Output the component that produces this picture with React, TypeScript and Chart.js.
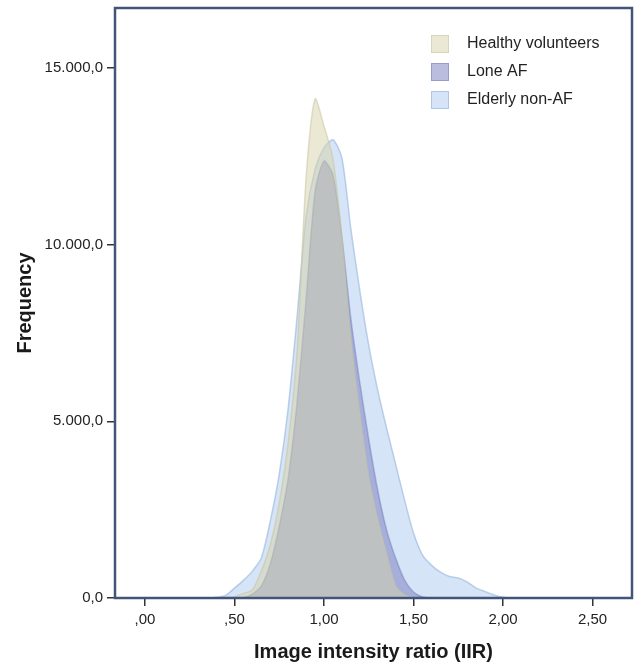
import React, { useEffect, useRef } from "react";
import { Chart, registerables } from "chart.js";

Chart.register(...registerables);

const xValues = [
  0.3, 0.35, 0.4, 0.45, 0.5, 0.55, 0.6, 0.65, 0.7, 0.75, 0.8, 0.85, 0.9, 0.95,
  1.0, 1.05, 1.1, 1.15, 1.2, 1.25, 1.3, 1.35, 1.4, 1.45, 1.5, 1.55, 1.6, 1.65,
  1.7, 1.75, 1.8, 1.85, 1.9, 1.95, 2.0, 2.05, 2.1,
];

const healthyVolunteers = [
  0, 0, 0, 20, 30, 130, 225, 760, 1500, 2680, 4400, 7000, 11880, 14125, 13360,
  12430, 10230, 7320, 5230, 3420, 2230, 1240, 340, 85, 20, 0, 0, 0, 0, 0, 0, 0,
  0, 0, 0, 0, 0,
];

const loneAF = [
  0, 0, 0, 0, 10, 15, 110, 340, 960, 2030, 3390, 5560, 8450, 11500, 12370,
  11980, 10200, 7910, 6100, 4490, 3050, 1920, 1130, 510, 170, 30, 0, 0, 0, 0, 0,
  0, 0, 0, 0, 0, 0,
];

const elderlyNonAF = [
  0, 0, 20, 70, 280, 500, 760, 1130, 2175, 3500, 5370, 7970, 10790, 12120,
  12740, 12970, 12460, 10450, 8700, 7150, 5880, 4800, 3790, 2770, 1840, 1215,
  930, 730, 610, 565, 450, 280, 180, 85, 20, 0, 0,
];

const seriesLabels = ["Healthy volunteers", "Lone AF", "Elderly non-AF"];
const xTickValues = [0, 0.5, 1.0, 1.5, 2.0, 2.5];
const yTickValues = [0, 5000, 10000, 15000];

const fillColors = [
  "rgba(216,212,170,0.5)",
  "rgba(118,124,190,0.5)",
  "rgba(172,202,238,0.5)",
];
const lineColors = [
  "rgba(200,196,160,0.55)",
  "rgba(110,116,180,0.45)",
  "rgba(150,180,222,0.6)",
];

function fmtX(v: number): string {
  const s = v.toFixed(2).replace(".", ",");
  return s.startsWith("0,") ? s.slice(1) : s;
}

function fmtY(v: number): string {
  const intPart = Math.round(v)
    .toString()
    .replace(/\B(?=(\d{3})+(?!\d))/g, ".");
  return intPart + ",0";
}

const framePlugin = {
  id: "frame",
  afterDatasetsDraw(chart: any) {
    const { ctx, chartArea } = chart;
    ctx.save();
    ctx.strokeStyle = "#43547a";
    ctx.lineWidth = 2.5;
    ctx.strokeRect(
      chartArea.left,
      chartArea.top,
      chartArea.right - chartArea.left,
      chartArea.bottom - chartArea.top
    );
    ctx.restore();
  },
};

const legendPlugin = {
  id: "insideLegend",
  afterDraw(chart: any) {
    const { ctx, chartArea } = chart;
    ctx.save();
    const x0 = chartArea.right - 201;
    const y0 = chartArea.top + 36;
    chart.data.datasets.forEach((ds: any, i: number) => {
      const cy = y0 + i * 28;
      ctx.fillStyle = "#ffffff";
      ctx.fillRect(x0, cy - 9, 18, 18);
      ctx.fillStyle = ds.backgroundColor;
      ctx.fillRect(x0, cy - 9, 18, 18);
      ctx.strokeStyle = ds.borderColor;
      ctx.lineWidth = 1;
      ctx.strokeRect(x0 + 0.5, cy - 8.5, 17, 17);
      ctx.fillStyle = "#222222";
      ctx.font = "16px 'Liberation Sans', Arial, sans-serif";
      ctx.textAlign = "left";
      ctx.textBaseline = "middle";
      ctx.fillText(ds.label, x0 + 36, cy);
    });
    ctx.restore();
  },
};

export default function App() {
  const ref = useRef<HTMLCanvasElement | null>(null);

  useEffect(() => {
    document.body.style.margin = "0";
    const canvas = ref.current;
    if (!canvas) return;
    const seriesValues = [healthyVolunteers, loneAF, elderlyNonAF];
    const chart = new Chart(canvas, {
      type: "line",
      data: {
        datasets: seriesValues.map((vals, i) => ({
          label: seriesLabels[i],
          data: xValues.map((x, j) => ({ x, y: vals[j] })),
          backgroundColor: fillColors[i],
          borderColor: lineColors[i],
          borderWidth: 1.5,
          fill: "origin",
          pointRadius: 0,
          tension: 0.25,
        })),
      },
      options: {
        animation: false,
        responsive: false,
        layout: { padding: { top: 8, right: 3, left: 0, bottom: 0 } },
        plugins: {
          legend: { display: false },
          tooltip: { enabled: false },
        },
        scales: {
          x: {
            type: "linear",
            min: -0.167,
            max: 2.72,
            afterBuildTicks: (scale: any) => {
              scale.ticks = xTickValues.map((v) => ({ value: v }));
            },
            afterFit: (scale: any) => {
              scale.height = 71;
              scale.paddingLeft = 0;
              scale.paddingRight = 0;
            },
            border: { display: false },
            grid: {
              drawOnChartArea: false,
              drawTicks: true,
              tickLength: 8,
              color: "#333333",
              lineWidth: 1.5,
            },
            ticks: {
              padding: 5,
              color: "#222222",
              font: { size: 15, family: "'Liberation Sans', Arial, sans-serif" },
              callback: (v: any) => fmtX(Number(v)),
              maxRotation: 0,
            },
            title: {
              display: true,
              text: "Image intensity ratio (IIR)",
              color: "#1a1a1a",
              font: {
                size: 20,
                weight: "bold",
                family: "'Liberation Sans', Arial, sans-serif",
              },
              padding: { top: 0, bottom: 5 },
            },
          },
          y: {
            type: "linear",
            min: 0,
            max: 16700,
            afterBuildTicks: (scale: any) => {
              scale.ticks = yTickValues.map((v) => ({ value: v }));
            },
            afterFit: (scale: any) => {
              scale.width = 115;
              scale.paddingTop = 0;
              scale.paddingBottom = 0;
            },
            border: { display: false },
            grid: {
              drawOnChartArea: false,
              drawTicks: true,
              tickLength: 8,
              color: "#333333",
              lineWidth: 1.5,
            },
            ticks: {
              padding: 4,
              color: "#222222",
              font: { size: 15, family: "'Liberation Sans', Arial, sans-serif" },
              callback: (v: any) => fmtY(Number(v)),
            },
            title: {
              display: true,
              text: "Frequency",
              color: "#1a1a1a",
              font: {
                size: 20,
                weight: "bold",
                family: "'Liberation Sans', Arial, sans-serif",
              },
              padding: { top: 13, bottom: 0 },
            },
          },
        },
      },
      plugins: [framePlugin, legendPlugin],
    });
    return () => chart.destroy();
  }, []);

  return (
    <div style={{ width: 635, height: 669, background: "#ffffff" }}>
      <canvas ref={ref} width={635} height={669} />
    </div>
  );
}
